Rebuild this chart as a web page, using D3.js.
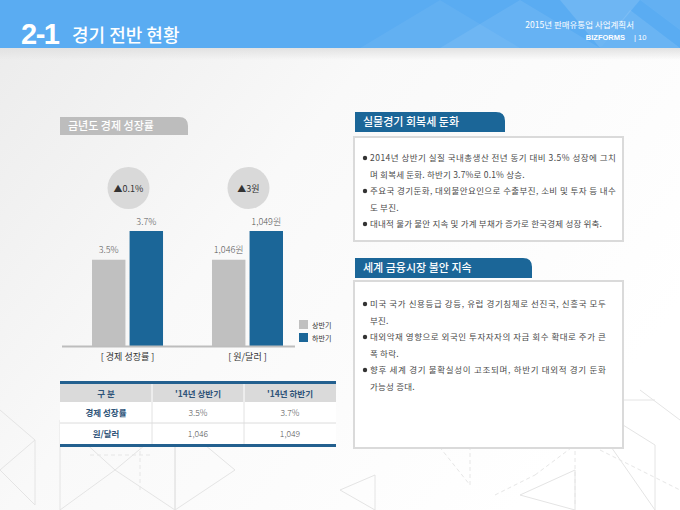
<!DOCTYPE html>
<html><head><meta charset="utf-8">
<script src="https://cdn.jsdelivr.net/npm/d3@7"></script>
<style>body{margin:0;background:#fff}svg{display:block}</style>
</head><body>
<script>
// ---------- data ----------
const categories = ["경제 성장률", "원/달러"];
const series = ["상반기", "하반기"];
const firstHalf = [3.5, 1046];
const secondHalf = [3.7, 1049];
const units = ["%", "원"];
const axisMin = [2.9, 1037];
const axisMax = [3.7, 1049];
const changeLabels = ["▲0.1%", "▲3원"];
const tableHeader = ["구 분", "'14년 상반기", "'14년 하반기"];
const tableValues = [["3.5%", "3.7%"], ["1,046", "1,049"]];
const box1Title = "실물경기 회복세 둔화";
const box1Bullets = [
  ["2014년 상반기 실질 국내총생산 전년 동기 대비 3.5% 성장에 그치", "며 회복세 둔화. 하반기 3.7%로 0.1% 상승."],
  ["주요국 경기둔화, 대외불안요인으로 수출부진, 소비 및 투자 등 내수", "도 부진."],
  ["대내적 물가 불안 지속 및 가계 부채가 증가로 한국경제 성장 위축."]
];
const box2Title = "세계 금융시장 불안 지속";
const box2Bullets = [
  ["미국 국가 신용등급 강등, 유럽 경기침체로 선진국, 신흥국 모두", "부진."],
  ["대외악재 영향으로 외국인 투자자자의 자금 회수 확대로 주가 큰", "폭 하락."],
  ["향후 세계 경기 불확실성이 고조되며, 하반기 대외적 경기 둔화", "가능성 증대."]
];
const chartTitle = "금년도 경제 성장률";

// ---------- setup ----------
const KR = "'Noto Sans CJK KR','Noto Sans',sans-serif";
const W = 680, H = 510;
const svg = d3.select("body").append("svg").attr("width", W).attr("height", H)
  .style("font-family", KR);
const defs = svg.append("defs");
const bg = defs.append("linearGradient").attr("id", "bg").attr("x1", 0).attr("y1", 0).attr("x2", 1).attr("y2", 0.6);
bg.append("stop").attr("offset", "0").attr("stop-color", "#ebebeb");
bg.append("stop").attr("offset", "0.45").attr("stop-color", "#f9f9f9");
bg.append("stop").attr("offset", "1").attr("stop-color", "#ffffff");
const sh = defs.append("linearGradient").attr("id", "sh").attr("x1", 0).attr("y1", 0).attr("x2", 0).attr("y2", 1);
sh.append("stop").attr("offset", "0").attr("stop-color", "#e2e2e2");
sh.append("stop").attr("offset", "1").attr("stop-color", "#e2e2e2").attr("stop-opacity", 0);

svg.append("rect").attr("width", W).attr("height", H).attr("fill", "url(#bg)");

// background decorative triangles
const deco = svg.append("g").attr("fill", "none").attr("stroke", "#e4e4e4").attr("stroke-width", 1);
const triSolid = [
  [[0,470],[35,440],[35,505]], [[60,420],[115,470],[60,510]], [[115,470],[175,420],[175,510]],
  [[175,420],[235,470],[175,510]], [[35,440],[0,410]],
  [[575,395],[655,445],[655,510]], [[600,400],[655,400]], [[520,495],[575,470],[575,510]],
  [[640,390],[680,420]], [[375,475],[375,510],[340,490]]
];
triSolid.forEach(p => deco.append("path").attr("d", d3.line()(p) + (p.length > 2 ? "Z" : "")));
const decoD = svg.append("g").attr("fill", "none").attr("stroke", "#e6e6e6").attr("stroke-dasharray", "4,3");
[
  [[430,435],[470,405],[470,485],[430,435]], [[535,475],[575,445],[575,505]],
  [[545,395],[545,440],[620,420]], [[495,495],[535,475]], [[600,450],[680,490]],
  [[90,455],[150,455]], [[140,430],[140,490]]
].forEach(p => decoD.append("path").attr("d", d3.line()(p)));

// ---------- header ----------
svg.append("rect").attr("width", W).attr("height", 48).attr("fill", "#5aacf2");
const hd = svg.append("g").attr("fill", "#ffffff");
[[[440,0],[520,48],[360,48]], [[520,0],[600,48],[440,48]], [[560,0],[640,0],[600,48]], [[630,10],[680,48],[600,48]], [[640,0],[680,0],[680,30]]]
  .forEach((p, i) => hd.append("path").attr("d", d3.line()(p) + "Z").attr("fill-opacity", [0.05, 0.08, 0.12, 0.1, 0.06][i]));
svg.append("rect").attr("y", 48).attr("width", W).attr("height", 12).attr("fill", "url(#sh)");
svg.append("text").attr("x", 21).attr("y", 44).attr("fill", "#fff")
  .style("font-family", "'Liberation Sans',Arial,sans-serif").style("font-weight", "bold").style("font-size", "29px")
  .style("letter-spacing", "-1.5px").text("2-1");
svg.append("text").attr("x", 72).attr("y", 42).attr("fill", "#fff").style("font-size", "18px").style("font-weight", 500)
  .text("경기 전반 현황");
svg.append("text").attr("x", 634).attr("y", 28).attr("text-anchor", "end").attr("fill", "#fff").style("font-size", "8.5px")
  .text("2015년 판매유통업 사업계획서");
svg.append("text").attr("x", 625).attr("y", 40).attr("text-anchor", "end").attr("fill", "#fff").style("font-size", "7.5px")
  .style("font-weight", "bold").style("font-family", "'Liberation Sans Narrow','Liberation Sans',sans-serif").text("BIZFORMS");
svg.append("text").attr("x", 634).attr("y", 40).attr("fill", "#fff").style("font-size", "7.5px")
  .style("font-family", "'Liberation Sans',sans-serif").text("| 10");

// ---------- tab helper ----------
function tab(x, y, w, h, fill, label) {
  const r = 9;
  svg.append("path").attr("d", `M${x},${y}H${x + w - r}Q${x + w},${y} ${x + w},${y + r}V${y + h}H${x}Z`).attr("fill", fill);
  svg.append("text").attr("x", x + 8).attr("y", y + h / 2 + 4).attr("fill", "#fff").style("font-size", "11px")
    .style("font-weight", 500).text(label);
}

// ---------- chart ----------
tab(60, 117, 128, 18, "#bdbdbd", chartTitle);

const colors = ["#c0c0c0", "#1b6698"];
const x = d3.scaleBand().domain(categories).range([92, 283]).paddingInner(0.408);
const xs = d3.scaleBand().domain(series).range([0, x.bandwidth()]).paddingInner(0.11);
const yScales = categories.map((c, i) => d3.scaleLinear().domain([axisMin[i], axisMax[i]]).range([346, 231]));
const fmt = (v, i) => d3.format(i === 1 ? ",.0f" : ".1f")(v) + units[i];

const rows = categories.map((c, i) => ({ c, i, vals: [firstHalf[i], secondHalf[i]] }));
const grp = svg.append("g").selectAll("g").data(rows).join("g")
  .attr("transform", d => `translate(${x(d.c)},0)`);
grp.selectAll("rect").data(d => d.vals.map((v, k) => ({ v, k, i: d.i }))).join("rect")
  .attr("x", d => xs(series[d.k])).attr("width", xs.bandwidth())
  .attr("y", d => yScales[d.i](d.v)).attr("height", d => yScales[d.i](axisMin[d.i]) - yScales[d.i](d.v))
  .attr("fill", d => colors[d.k]);
grp.selectAll("text.val").data(d => d.vals.map((v, k) => ({ v, k, i: d.i }))).join("text").attr("class", "val")
  .attr("x", d => xs(series[d.k]) + xs.bandwidth() / 2).attr("y", d => yScales[d.i](d.v) - 6.5)
  .attr("text-anchor", "middle").attr("fill", "#555").style("font-size", "9px").style("font-weight", 300)
  .text(d => fmt(d.v, d.i));
// change bubbles
grp.append("circle").attr("cx", x.bandwidth() / 2 + 1).attr("cy", 188).attr("r", 21).attr("fill", "#d9d9d9");
grp.append("text").attr("x", x.bandwidth() / 2 + 1).attr("y", 191.5).attr("text-anchor", "middle")
  .attr("fill", "#333").style("font-size", "9px").text(d => changeLabels[d.i]);

// baseline + category axis
svg.append("line").attr("x1", 62).attr("x2", 295).attr("y1", 346.5).attr("y2", 346.5)
  .attr("stroke", "#bdbdbd").attr("stroke-width", 2);
const ax = svg.append("g").attr("transform", "translate(0,346)")
  .call(d3.axisBottom(x).tickSize(0).tickPadding(8).tickFormat(d => `[ ${d} ]`));
ax.select(".domain").remove();
ax.selectAll("text").attr("fill", "#333").style("font-size", "9px").style("font-family", KR);

// legend
const lg = svg.append("g").selectAll("g").data(series).join("g")
  .attr("transform", (d, k) => `translate(299,${320 + k * 13})`);
lg.append("rect").attr("width", 9).attr("height", 9).attr("fill", (d, k) => colors[k]);
lg.append("text").attr("x", 13).attr("y", 7.5).attr("fill", "#333").style("font-size", "7px").text(d => d);

// ---------- table ----------
const tx0 = 60, tx1 = 336;
const tc = d3.scaleBand().domain(d3.range(3)).range([tx0, tx1]);
const tblTop = 384, hH = 18, rH = 21;
const tbl = svg.append("g");
tbl.append("rect").attr("x", tx0).attr("y", tblTop).attr("width", tx1 - tx0).attr("height", hH).attr("fill", "#dadada");
tbl.append("rect").attr("x", tx0).attr("y", tblTop + hH).attr("width", tx1 - tx0).attr("height", rH * 2).attr("fill", "#fff");
[1, 2].forEach(k => {
  tbl.append("line").attr("x1", tc(k)).attr("x2", tc(k)).attr("y1", tblTop).attr("y2", tblTop + hH).attr("stroke", "#fff");
  tbl.append("line").attr("x1", tc(k)).attr("x2", tc(k)).attr("y1", tblTop + hH).attr("y2", tblTop + hH + 2 * rH).attr("stroke", "#e2e2e2");
});
tbl.append("line").attr("x1", tx0).attr("x2", tx1).attr("y1", tblTop + hH + rH).attr("y2", tblTop + hH + rH).attr("stroke", "#dcdcdc");
tbl.append("rect").attr("x", tx0).attr("y", tblTop - 3).attr("width", tx1 - tx0).attr("height", 3).attr("fill", "#23608f");
tbl.append("rect").attr("x", tx0).attr("y", tblTop + hH + 2 * rH).attr("width", tx1 - tx0).attr("height", 3).attr("fill", "#23608f");
tableHeader.forEach((t, k) => tbl.append("text").attr("x", tc(k) + tc.bandwidth() / 2).attr("y", tblTop + 12.5)
  .attr("text-anchor", "middle").attr("fill", "#2f5479").style("font-size", "8.5px").style("font-weight", "bold").text(t));
categories.forEach((c, i) => {
  const yy = tblTop + hH + rH * i + 14;
  tbl.append("text").attr("x", tc(0) + tc.bandwidth() / 2).attr("y", yy).attr("text-anchor", "middle")
    .attr("fill", "#2f5479").style("font-size", "8.5px").style("font-weight", "bold").text(c);
  tableValues[i].forEach((v, k) => tbl.append("text").attr("x", tc(k + 1) + tc.bandwidth() / 2).attr("y", yy)
    .attr("text-anchor", "middle").attr("fill", "#555").style("font-size", "8.5px").style("font-weight", 300).text(v));
});

// ---------- text boxes ----------
function box(tabY, tabW, title, bTop, bBot, bullets, lineW, y0) {
  tab(355, tabY, tabW, 20, "#1b6698", title);
  svg.append("rect").attr("x", 354).attr("y", bTop).attr("width", 269).attr("height", bBot - bTop)
    .attr("fill", "#fff").attr("stroke", "#dadada").attr("stroke-width", 2);
  let yy = y0;
  bullets.forEach(lines => {
    svg.append("circle").attr("cx", 365).attr("cy", yy - 3).attr("r", 2.2).attr("fill", "#333");
    lines.forEach((ln, j) => {
      const t = svg.append("text").attr("x", 370).attr("y", yy).attr("fill", "#4a4a4a").style("font-size", "8.5px")
        .style("letter-spacing", "0.2px").text(ln);
      if (j < lines.length - 1) t.attr("textLength", lineW).attr("lengthAdjust", "spacing");
      yy += 16.5;
    });
  });
}
box(112, 150, box1Title, 137, 241, box1Bullets, 246, 161);
box(258, 177, box2Title, 281, 448, box2Bullets, 236, 307);
</script>
</body></html>
